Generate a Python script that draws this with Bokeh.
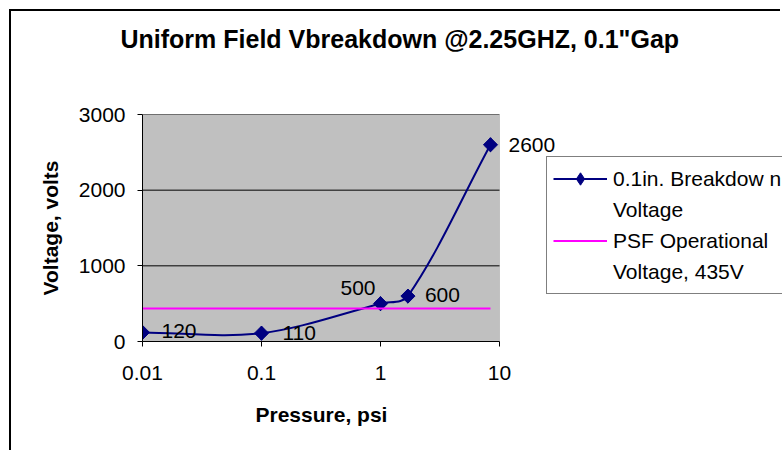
import math
from bokeh.plotting import figure
from bokeh.models import (ColumnDataSource, Range1d, FixedTicker, Legend,
                          LegendItem, BoxAnnotation, Title)
from bokeh.core.properties import value
from bokeh.embed import file_html
from bokeh.resources import INLINE

# ---------------- data ----------------
pressure_psi = [0.01, 0.1, 1.0, 1.7, 8.4]
breakdown_volts = [120, 110, 500, 600, 2600]
psf_volts = [435, 435, 435, 435, 435]
point_labels = [str(v) for v in breakdown_volts]

x_ticks = [0.01, 0.1, 1.0, 10.0]
x_tick_labels = ["0.01", "0.1", "1", "10"]
y_ticks = [0, 1000, 2000, 3000]

legend_lines = ["0.1in. Breakdow n", "Voltage", "PSF Operational", "Voltage, 435V"]
title_text = 'Uniform Field Vbreakdown @2.25GHZ, 0.1"Gap'
x_title = "Pressure, psi"
y_title = "Voltage, volts"

# ---------------- layout / style ----------------
X0, X1 = 0.01, 10          # plot-area x extent (psi)
Y0, Y1 = 0, 3000           # plot-area y extent (volts)
PLOT_W, PLOT_H = 357, 227  # grey plot-area size in px
CANVAS_W, CANVAS_H = 771, 441
LEFT, TOP = 131, 103
FRAME_W = CANVAS_W - LEFT  # frame runs on to the right edge (room for legend)
FONT = "Liberation Sans"
NAVY = "#000080"
MAGENTA = "#FF00FF"

decades = math.log10(X1) - math.log10(X0)
X_END = 10 ** (math.log10(X0) + decades * FRAME_W / PLOT_W)

# label offsets (screen px) for the data labels
lbl_dx = [19, 21, -40, 17, 18]
lbl_dy = [-1, 0, -16, -1, 0]

p = figure(width=CANVAS_W, height=CANVAS_H, x_axis_type="log",
           x_range=Range1d(X0, X_END), y_range=Range1d(Y0, Y1),
           output_backend="svg", toolbar_location=None,
           min_border_left=LEFT, min_border_top=TOP, min_border_right=0,
           min_border_bottom=CANVAS_H - TOP - PLOT_H)
p.styles = {"margin-left": "9px", "margin-top": "9px",
            "border-left": "2px solid black", "border-top": "2px solid black"}
p.background_fill_color = "white"
p.border_fill_color = "white"
p.outline_line_color = None
p.xgrid.visible = False
p.ygrid.visible = False

# grey plot area
p.add_layout(BoxAnnotation(left=X0, right=X1, bottom=Y0, top=Y1,
                           fill_color="#C0C0C0", fill_alpha=1,
                           line_color="#808080", line_width=1, level="underlay"))
# horizontal gridlines
grid_y = y_ticks[1:]
p.segment(x0=[X0] * len(grid_y), x1=[X1] * len(grid_y), y0=grid_y, y1=grid_y,
          line_color="black", line_width=1)

p.xaxis.ticker = FixedTicker(ticks=x_ticks)
p.xaxis.major_label_overrides = dict(zip(x_ticks, x_tick_labels))
p.xaxis.bounds = (X0, X1)
p.yaxis.ticker = FixedTicker(ticks=y_ticks)
p.yaxis.bounds = (Y0, Y1)

for ax in (p.xaxis[0], p.yaxis[0]):
    ax.axis_line_color = "black"
    ax.axis_line_width = 1
    ax.major_tick_line_color = "black"
    ax.major_tick_out = 5
    ax.major_tick_in = 0
    ax.minor_tick_line_color = None
    ax.major_label_text_font = FONT
    ax.major_label_text_font_size = "21px"
    ax.major_label_text_color = "black"
    ax.axis_label_text_font = FONT
    ax.axis_label_text_font_size = "21px"
    ax.axis_label_text_font_style = "bold"
    ax.axis_label_text_color = "black"

p.yaxis.axis_label = y_title
p.xaxis.major_label_standoff = 19
p.yaxis.major_label_standoff = 12
p.yaxis.axis_label_standoff = 14

# x-axis title (as a below title so it can be centred on the plot area)
p.add_layout(Title(text=x_title, align="left", offset=113, standoff=36,
                   text_font=FONT, text_font_style="bold",
                   text_font_size="21px", text_color="black"), "below")

# chart title: spacer first (next to frame), then the title further out
p.add_layout(Title(text=" ", text_font_size="1px", standoff=54), "above")
p.add_layout(Title(text=title_text, align="left", offset=-22, standoff=10,
                   text_font=FONT, text_font_style="bold",
                   text_font_size="25px", text_color="black"), "above")

# ---------------- smoothed curve (Excel-like, drawn as beziers) ----------------
lx0 = math.log10(X0)
ppd = PLOT_W / decades
ppv = PLOT_H / (Y1 - Y0)
pts = [((math.log10(x) - lx0) * ppd, (y - Y0) * ppv)
       for x, y in zip(pressure_psi, breakdown_volts)]


def dist(a, b):
    return math.hypot(b[0] - a[0], b[1] - a[1])


def back(pt):
    return 10 ** (pt[0] / ppd + lx0), pt[1] / ppv + Y0


seg = {k: [] for k in ("x0", "y0", "x1", "y1", "cx0", "cy0", "cx1", "cy1")}
n = len(pts)
for i in range(n - 1):
    q0 = pts[i - 1] if i > 0 else pts[i]
    q1 = pts[i]
    q2 = pts[i + 1]
    q3 = pts[i + 2] if i + 2 < n else pts[i + 1]
    d01, d12, d23 = dist(q0, q1), dist(q1, q2), dist(q2, q3)
    f1 = d12 / (d01 + d12) / 3.0
    f2 = d12 / (d12 + d23) / 3.0
    c1 = (q1[0] + (q2[0] - q0[0]) * f1, q1[1] + (q2[1] - q0[1]) * f1)
    c2 = (q2[0] - (q3[0] - q1[0]) * f2, q2[1] - (q3[1] - q1[1]) * f2)
    seg["x0"].append(pressure_psi[i]); seg["y0"].append(breakdown_volts[i])
    seg["x1"].append(pressure_psi[i + 1]); seg["y1"].append(breakdown_volts[i + 1])
    bx, by = back(c1); seg["cx0"].append(bx); seg["cy0"].append(by)
    bx, by = back(c2); seg["cx1"].append(bx); seg["cy1"].append(by)

curve = p.bezier(x0="x0", y0="y0", x1="x1", y1="y1", cx0="cx0", cy0="cy0",
                 cx1="cx1", cy1="cy1", source=ColumnDataSource(seg),
                 line_color=NAVY, line_width=2)

# diamond markers (the legend shows these; the rotated squares cover them)
legend_marks = p.scatter(pressure_psi, breakdown_volts, marker="diamond",
                         size=14, fill_color=NAVY, line_color=NAVY)
markers = p.scatter(pressure_psi, breakdown_volts, marker="square", size=10,
                    angle=math.pi / 4, fill_color=NAVY, line_color=NAVY)

psf = p.line(pressure_psi, psf_volts, line_color=MAGENTA, line_width=2)

lbl_src = ColumnDataSource(dict(x=pressure_psi, y=breakdown_volts,
                                t=point_labels, dx=lbl_dx, dy=lbl_dy))
p.text(x="x", y="y", text="t", x_offset="dx", y_offset="dy", source=lbl_src,
       text_align="left", text_baseline="middle", text_color="black",
       text_font=value(FONT), text_font_size="21px")

# invisible helper for the second text line of each legend entry
blank = p.line(x=[], y=[], line_alpha=0)

legend = Legend(items=[
    LegendItem(label=legend_lines[0], renderers=[curve, legend_marks]),
    LegendItem(label=legend_lines[1], renderers=[blank]),
    LegendItem(label=legend_lines[2], renderers=[psf]),
    LegendItem(label=legend_lines[3], renderers=[blank]),
], location=(404, 47), orientation="vertical",
    glyph_width=54, glyph_height=31, label_height=31, label_width=10,
    spacing=0, padding=6, margin=0, label_standoff=6,
    border_line_color="black", border_line_width=1,
    background_fill_color="white", background_fill_alpha=1,
    label_text_font=FONT, label_text_font_size="21px", label_text_color="black")
p.add_layout(legend, "center")

open("out.html", "w").write(file_html(p, INLINE))
